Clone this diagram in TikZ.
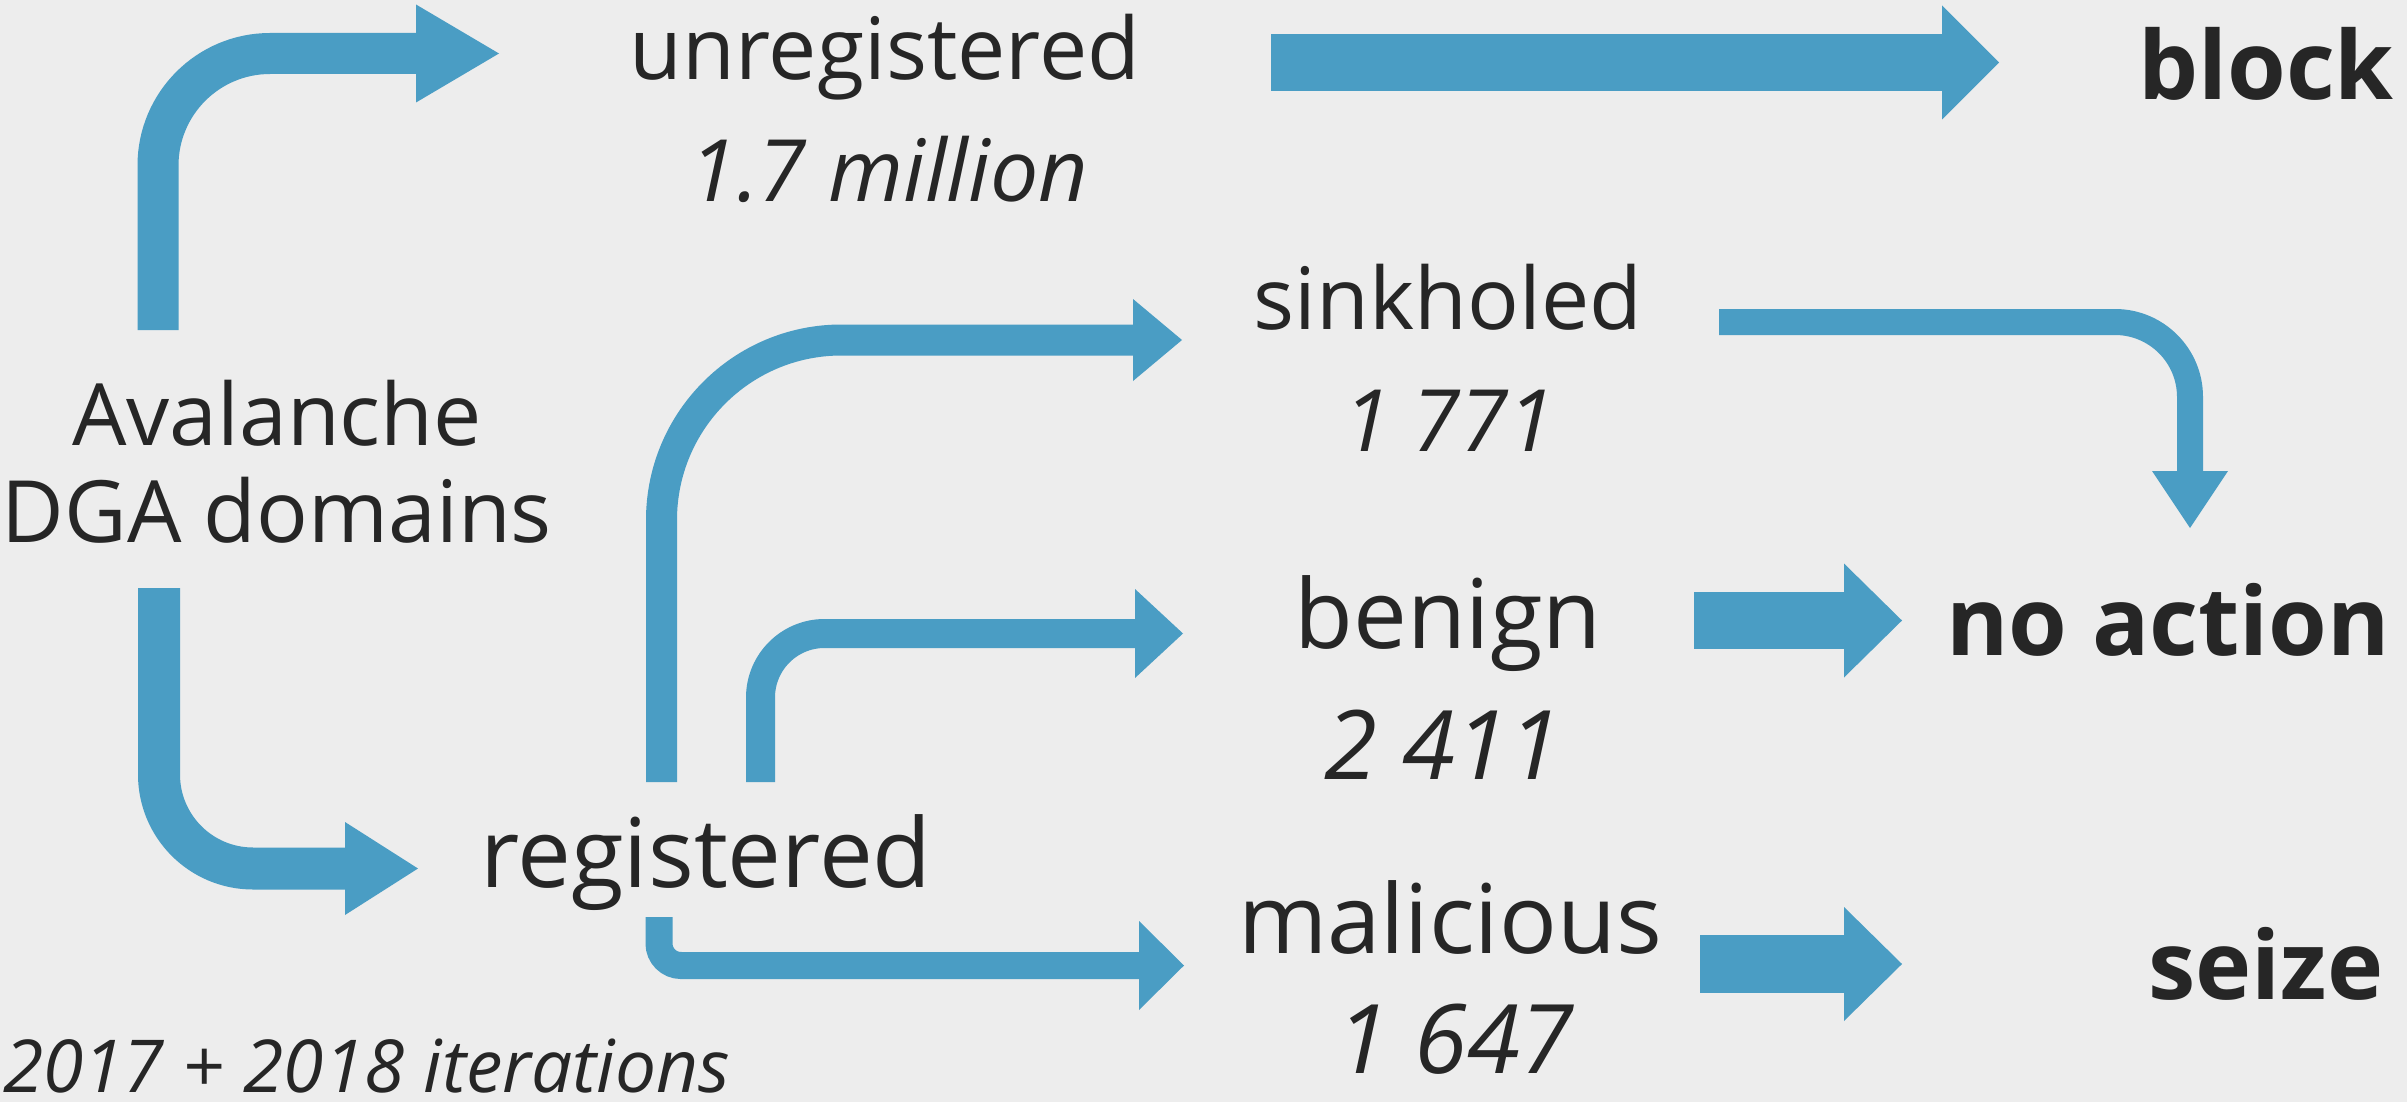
\documentclass[tikz,border=0pt]{standalone}
\usepackage{fontspec}
\setmainfont{Open Sans}
\usetikzlibrary{arrows.meta}
\definecolor{bgc}{HTML}{EDEDED}
\definecolor{arr}{HTML}{4A9DC4}
\definecolor{txt}{HTML}{262626}
\begin{document}
\begin{tikzpicture}[x=1pt,y=-1pt,
  lbl/.style={anchor=base, inner sep=0pt, text=txt, font=\fontsize{86}{97}\selectfont},
  big/.style={lbl, font=\fontsize{96}{110}\selectfont},
  num/.style={lbl, font=\fontsize{86}{97}\selectfont\itshape},
  bignum/.style={lbl, font=\fontsize{96}{110}\selectfont\itshape},
  act/.style={lbl, font=\fontsize{95}{110}\selectfont\bfseries},
  note/.style={anchor=base west, inner sep=0pt, text=txt, font=\fontsize{73}{80}\selectfont\itshape},
  pipe/.style n args={3}{draw=arr, line width=#1, -{Triangle[length=#2, width=#3, line width=0pt]}}
]
\fill[bgc] (0,0) rectangle (2407,1102);
\useasboundingbox (0,0) rectangle (2407,1102);

% text nodes
\node[lbl, align=center] (dga) at (277,542) {Avalanche\\DGA domains};
\node[lbl] (unreg) at (885,80) {unregistered};
\node[num] (n17) at (889,202) {1.7 million};
\node[big] (reg) at (706,887) {registered};
\node[lbl] (sink) at (1448,329) {sinkholed};
\node[num] (n1771) at (1449,451) {1 771};
\node[big] (benign) at (1448,648) {benign};
\node[bignum] (n2411) at (1443,779) {2 411};
\node[big] (mal) at (1450,953) {malicious};
\node[bignum] (n1647) at (1455,1073) {1 647};
\node[act] (block) at (2266,100) {block};
\node[act] (noact) at (2168,655) {no action};
\node[act] (seize) at (2266,999) {seize};
\node[note] (iter) at (3,1092) {2017 + 2018 iterations};

% connector end points
\coordinate (a1s) at (158,330);   \coordinate (a1e) at (499,53.5);
\coordinate (a2s) at (159,588);   \coordinate (a2e) at (418,868.5);
\coordinate (a3s) at (1271,62.5); \coordinate (a3e) at (1999,62.5);
\coordinate (a4s) at (661.5,782); \coordinate (a4e) at (1182,340);
\coordinate (a5s) at (760.5,782); \coordinate (a5e) at (1183,633.5);
\coordinate (a6s) at (659,917);   \coordinate (a6e) at (1184,965.5);
\coordinate (a7s) at (1719,322);  \coordinate (a7e) at (2190,528);
\coordinate (a8s) at (1694,620.5);\coordinate (a8e) at (1902,620.5);
\coordinate (a9s) at (1700,964);  \coordinate (a9e) at (1902,964);

% connectors
\draw[pipe={41pt}{83pt}{98pt}, rounded corners=112pt] (a1s) |- (a1e);
\draw[pipe={42pt}{73pt}{93pt}, rounded corners=94pt] (a2s) |- (a2e);
\draw[pipe={57pt}{57pt}{114pt}] (a3s) -- (a3e);
\draw[pipe={31pt}{49pt}{82pt}, rounded corners=180pt] (a4s) |- (a4e);
\draw[pipe={29pt}{48pt}{89pt}, rounded corners=64pt] (a5s) |- (a5e);
\draw[pipe={27pt}{45pt}{89pt}, rounded corners=22pt] (a6s) |- (a6e);
\draw[pipe={26pt}{57pt}{76pt}, rounded corners=75pt] (a7s) -| (a7e);
\draw[pipe={57pt}{58pt}{114pt}] (a8s) -- (a8e);
\draw[pipe={58pt}{58pt}{114pt}] (a9s) -- (a9e);
\end{tikzpicture}
\end{document}
